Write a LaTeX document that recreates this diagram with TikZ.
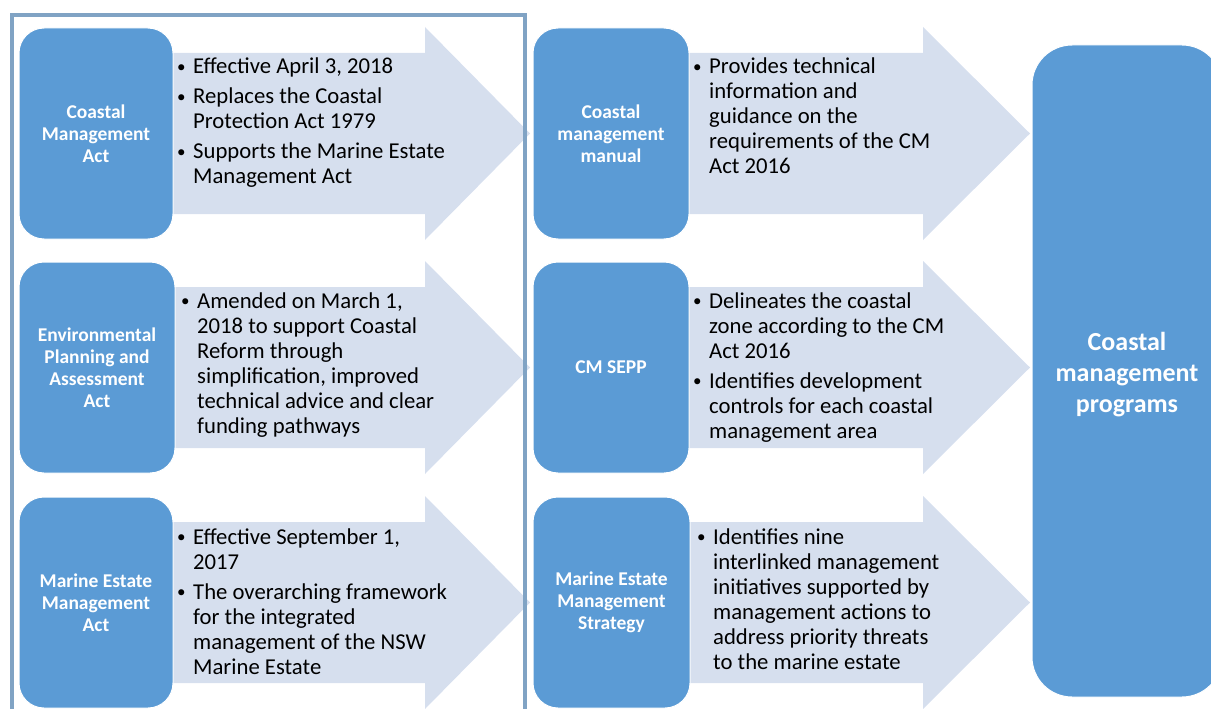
\documentclass[tikz,border=0pt]{standalone}
\usepackage{fontspec}
\setmainfont{Carlito}
\definecolor{boxblue}{RGB}{91,155,213}
\definecolor{arrowfill}{RGB}{214,223,238}
\definecolor{framecol}{RGB}{128,163,196}
\tikzset{
  actbox/.style={draw=white, line width=1pt, fill=boxblue, rounded corners=25pt,
    text=white, align=center, inner sep=0pt,
    font=\fontsize{19.5}{22}\selectfont\bfseries},
  bigbox/.style={draw=white, line width=1pt, fill=boxblue, rounded corners=40pt},
  bigtext/.style={text=white, align=center, inner sep=0pt,
    font=\fontsize{26}{31}\selectfont\bfseries},
  bullettext/.style={anchor=base west, inner sep=0pt, text=black,
    font=\fontsize{22.7}{25}\selectfont},
  arrowshape/.style={fill=arrowfill, draw=none},
  outerframe/.style={draw=framecol, line width=4pt}
}
\newcommand{\bulletlist}[1]{\begin{tabular}[t]{@{}p{17pt}@{}l@{}}#1\end{tabular}}
\newcommand{\bul}{\hspace*{1pt}\raisebox{1.8pt}{\scalebox{0.75}{\textbullet}}}
\begin{document}
\begin{tikzpicture}[x=1pt,y=-1pt]
\useasboundingbox (0,0) rectangle (1211,709);
\clip (0,0) rectangle (1211,709);
% arrows, left column
\foreach \t in {28,262,497}{
  \fill[arrowshape] (150,\t+25) -- (425,\t+25) -- (425,\t-1) -- (530,\t+105.5)
    -- (425,\t+212) -- (425,\t+186) -- (150,\t+186) -- cycle;
}
% arrows, middle column
\foreach \t in {28,262,497}{
  \fill[arrowshape] (660,\t+25) -- (923,\t+25) -- (923,\t-1) -- (1030,\t+105.5)
    -- (923,\t+212) -- (923,\t+186) -- (660,\t+186) -- cycle;
}
% frame
\draw[outerframe] (12,760) -- (12,15) -- (525,15) -- (525,760);
% left boxes
\node[actbox, minimum width=154, minimum height=211] (cma) at (96,133.5) {Coastal\\Management\\Act};
\node[actbox, minimum width=156, minimum height=211] (epa) at (97,367.5) {Environmental\\Planning and\\Assessment\\Act};
\node[actbox, minimum width=154, minimum height=211] (mema) at (96,602.5) {Marine Estate\\Management\\Act};
% middle boxes
\node[actbox, minimum width=156, minimum height=211] (cmm) at (611,133.5) {Coastal\\management\\manual};
\node[actbox, minimum width=156, minimum height=211] (sepp) at (611,367.5) {CM SEPP};
\node[actbox, minimum width=157, minimum height=211] (mems) at (611.5,602.5) {Marine Estate\\Management\\Strategy};
% right box
\node[bigbox, minimum width=190, minimum height=652] (cmp) at (1127,371) {};
\node[bigtext] (cmptext) at (1127,375) {Coastal\\management\\programs};
% texts
\node[bullettext] (t1) at (176,74) {\bulletlist{\bul & Effective April 3, 2018\\[5pt]
  \bul & Replaces the Coastal\\ & Protection Act 1979\\[5pt]
  \bul & Supports the Marine Estate\\ & Management Act}};
\node[bullettext] (t2) at (180,308) {\bulletlist{\bul & Amended on March 1,\\
  & 2018 to support Coastal\\ & Reform through\\ & simplification, improved\\
  & technical advice and clear\\ & funding pathways}};
\node[bullettext] (t3) at (176,544) {\bulletlist{\bul & Effective September 1,\\ & 2017\\[5pt]
  \bul & The overarching framework\\ & for the integrated\\
  & management of the NSW\\ & Marine Estate}};
\node[bullettext] (t4) at (692,74) {\bulletlist{\bul & Provides technical\\
  & information and\\ & guidance on the\\ & requirements of the CM\\ & Act 2016}};
\node[bullettext] (t5) at (692,308) {\bulletlist{\bul & Delineates the coastal\\
  & zone according to the CM\\ & Act 2016\\[5pt]
  \bul & Identifies development\\ & controls for each coastal\\ & management area}};
\node[bullettext] (t6) at (696,544) {\bulletlist{\bul & Identifies nine\\
  & interlinked management\\ & initiatives supported by\\ & management actions to\\
  & address priority threats\\ & to the marine estate}};
\end{tikzpicture}
\end{document}
